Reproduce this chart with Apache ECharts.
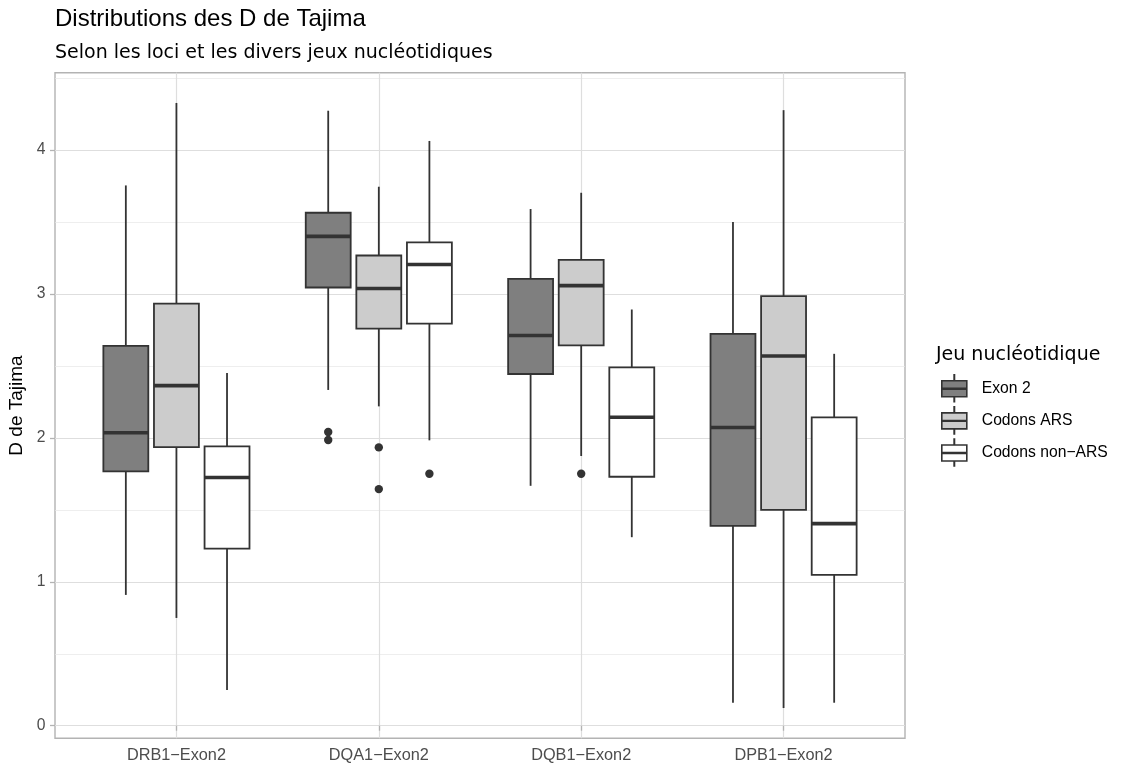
<!DOCTYPE html>
<html>
<head>
<meta charset="utf-8">
<title>Distributions des D de Tajima</title>
<script src="https://cdn.jsdelivr.net/npm/echarts@6/dist/echarts.min.js"></script>
<style>
  html, body { margin: 0; padding: 0; background: #ffffff; }
  #chart { width: 1123px; height: 765px; }
</style>
</head>
<body>
<div id="chart"></div>
<script>
// Loci on the x axis
const loci = ['DRB1\u2212Exon2', 'DQA1\u2212Exon2', 'DQB1\u2212Exon2', 'DPB1\u2212Exon2'];

// Nucleotide sets (legend entries) and their fills
const groups = ['Exon 2', 'Codons ARS', 'Codons non\u2212ARS'];
const groupFills = ['#7f7f7f', '#cccccc', '#ffffff'];

// Box statistics per locus: [lower whisker, Q1, median, Q3, upper whisker]
const statsExon2 = [
  [0.909, 1.767, 2.036, 2.639, 3.754],
  [2.333, 3.045, 3.400, 3.564, 4.273],
  [1.667, 2.444, 2.711, 3.105, 3.590],
  [0.160, 1.389, 2.072, 2.723, 3.500]
];
const statsARS = [
  [0.749, 1.936, 2.363, 2.933, 4.327],
  [2.219, 2.759, 3.038, 3.267, 3.745],
  [1.874, 2.643, 3.058, 3.237, 3.703],
  [0.123, 1.500, 2.569, 2.985, 4.277]
];
const statsNonARS = [
  [0.248, 1.231, 1.725, 1.941, 2.451],
  [1.983, 2.794, 3.205, 3.358, 4.063],
  [1.310, 1.730, 2.143, 2.490, 2.892],
  [0.160, 1.048, 1.404, 2.142, 2.584]
];

// Outlying values: [locus index, D]
const outliersExon2 = [[1, 2.041], [1, 1.985]];
const outliersARS = [[1, 1.934], [1, 1.644], [2, 1.751]];
const outliersNonARS = [[1, 1.751]];

// Y tick values
const yTicks = [0, 1, 2, 3, 4];

const statsByGroup = [statsExon2, statsARS, statsNonARS];
const outliersByGroup = [outliersExon2, outliersARS, outliersNonARS];

// Y range: data extent padded by 5% on each side
let lo = Infinity, hi = -Infinity;
statsByGroup.forEach(s => s.forEach(r => { lo = Math.min(lo, r[0]); hi = Math.max(hi, r[4]); }));
outliersByGroup.forEach(o => o.forEach(p => { lo = Math.min(lo, p[1]); hi = Math.max(hi, p[1]); }));
const pad = (hi - lo) * 0.05;
const yMin = lo - pad, yMax = hi + pad;

// Panel geometry (px)
const panel = { left: 55, top: 72.7, width: 850, height: 665.6 };
// Discrete x scale padded by 0.6 of a step on each side
const step = panel.width / (loci.length - 1 + 1.2);
const inner = { left: panel.left + 0.6 * step, top: panel.top, width: step * (loci.length - 1), height: panel.height };

const DODGE = 0.25;     // offset between boxes, in category steps
const HALF_W = 0.111;   // half box width, in category steps
const INK = '#333333';

function boxRenderer(g) {
  return function (params, api) {
    const band = api.size([1, 0])[0];
    const off = (g - 1) * DODGE * band;
    const hw = HALF_W * band;
    const cat = api.value(0);
    const pMin = api.coord([cat, api.value(1)]);
    const pQ1 = api.coord([cat, api.value(2)]);
    const pMed = api.coord([cat, api.value(3)]);
    const pQ3 = api.coord([cat, api.value(4)]);
    const pMax = api.coord([cat, api.value(5)]);
    const x = pMed[0] + off;
    const lineStyle = { stroke: INK, lineWidth: 1.8, fill: null };
    return {
      type: 'group',
      children: [
        { type: 'line', shape: { x1: x, y1: pQ3[1], x2: x, y2: pMax[1] }, style: lineStyle },
        { type: 'line', shape: { x1: x, y1: pQ1[1], x2: x, y2: pMin[1] }, style: lineStyle },
        { type: 'rect', shape: { x: x - hw, y: pQ3[1], width: 2 * hw, height: pQ1[1] - pQ3[1] },
          style: { fill: groupFills[g], stroke: INK, lineWidth: 1.8 } },
        { type: 'line', shape: { x1: x - hw, y1: pMed[1], x2: x + hw, y2: pMed[1] },
          style: { stroke: INK, lineWidth: 3.6 } }
      ]
    };
  };
}

function outlierRenderer(g) {
  return function (params, api) {
    const band = api.size([1, 0])[0];
    const off = (g - 1) * DODGE * band;
    const p = api.coord([api.value(0), api.value(1)]);
    return { type: 'circle', shape: { cx: p[0] + off, cy: p[1], r: 4.2 }, style: { fill: INK } };
  };
}

const series = [];
groups.forEach((name, g) => {
  series.push({
    name: name,
    type: 'custom',
    xAxisIndex: 1, yAxisIndex: 1,
    itemStyle: { color: groupFills[g], borderColor: INK },
    encode: { x: 0, y: [1, 2, 3, 4, 5] },
    renderItem: boxRenderer(g),
    data: statsByGroup[g].map((s, i) => [i].concat(s)),
    silent: true
  });
});
groups.forEach((name, g) => {
  series.push({
    name: name + ' (valeurs extrêmes)',
    type: 'custom',
    xAxisIndex: 1, yAxisIndex: 1,
    encode: { x: 0, y: 1 },
    renderItem: outlierRenderer(g),
    data: outliersByGroup[g],
    z: 3,
    silent: true
  });
});

const boxIcon = 'path://M0,6H25V22H0Z M12.3,0H12.7V6H12.3Z M12.3,22H12.7V27H12.3Z M0,13.6H25V14.4H0Z';

const option = {
  animation: false,
  backgroundColor: '#ffffff',
  title: [
    { text: 'Distributions des D de Tajima', left: 55, top: 7, padding: 0,
      textStyle: { fontFamily: 'Liberation Sans', fontSize: 24, lineHeight: 24, fontWeight: 'normal', color: '#000' } },
    { text: 'Selon les loci et les divers jeux nucléotidiques', left: 55, top: 43.5, padding: 0,
      textStyle: { fontFamily: 'DejaVu Sans', fontSize: 19, lineHeight: 19, fontWeight: 'normal', color: '#000' } },
    { text: 'Jeu nucléotidique', left: 936, top: 345.5, padding: 0,
      textStyle: { fontFamily: 'DejaVu Sans', fontSize: 19, lineHeight: 19, fontWeight: 'normal', color: '#000' } }
  ],
  legend: {
    orient: 'vertical',
    left: 941, top: 374, padding: 0,
    itemWidth: 25, itemHeight: 27, itemGap: 3.5,
    selectedMode: false,
    textStyle: { fontFamily: 'Liberation Sans', fontSize: 15.7, color: '#000', padding: [0, 0, 0, 10] },
    data: groups.map((name, g) => ({
      name: name,
      icon: boxIcon,
      itemStyle: { color: groupFills[g], borderColor: INK, borderWidth: 1.6 }
    }))
  },
  grid: [
    { left: panel.left, top: panel.top, width: panel.width, height: panel.height,
      show: true, backgroundColor: '#ffffff', borderColor: '#b3b3b3', borderWidth: 1.4,
      outerBoundsMode: 'none', containLabel: false },
    { left: inner.left, top: inner.top, width: inner.width, height: inner.height,
      outerBoundsMode: 'none', containLabel: false }
  ],
  xAxis: [
    { type: 'value', gridIndex: 0, min: 0, max: 1, show: false },
    { type: 'category', gridIndex: 1, data: loci, boundaryGap: false,
      axisLine: { show: false },
      axisTick: { show: true, length: 5, interval: 0, lineStyle: { color: '#b3b3b3', width: 1.3 } },
      axisLabel: { interval: 0, margin: 9, fontFamily: 'Liberation Sans', fontSize: 16.3, color: '#4d4d4d' },
      splitLine: { show: true, interval: 0, lineStyle: { color: '#dedede', width: 1.2 } } }
  ],
  yAxis: [
    { type: 'value', gridIndex: 0, min: yMin, max: yMax, splitNumber: 5,
      name: 'D de Tajima', nameLocation: 'middle', nameGap: 25,
      nameTextStyle: { fontFamily: 'Liberation Sans', fontSize: 19, color: '#000' },
      axisLine: { show: false },
      axisTick: { show: true, length: 5, customValues: yTicks, lineStyle: { color: '#b3b3b3', width: 1.3 } },
      axisLabel: { customValues: yTicks, margin: 9.5, fontFamily: 'Liberation Sans', fontSize: 15.7, color: '#4d4d4d',
                   showMinLabel: true, showMaxLabel: true },
      splitLine: { show: true, lineStyle: { color: '#dedede', width: 1.2 } },
      minorTick: { show: false, splitNumber: 2 },
      minorSplitLine: { show: true, lineStyle: { color: '#e6e6e6', width: 0.7 } } },
    { type: 'value', gridIndex: 1, min: yMin, max: yMax, show: false }
  ],
  series: series
};

const chart = echarts.init(document.getElementById('chart'), null, { renderer: 'canvas' });
chart.setOption(option);
</script>
</body>
</html>
